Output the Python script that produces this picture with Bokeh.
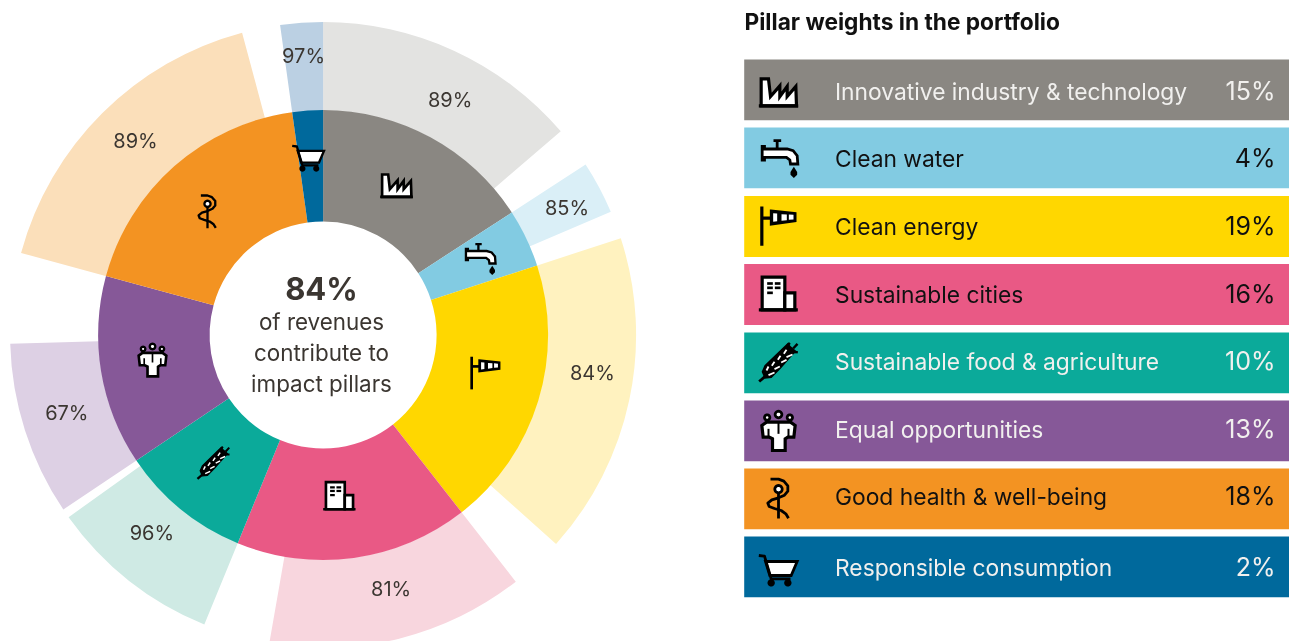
import math
from bokeh.plotting import figure
from bokeh.models import Range1d
from bokeh.core.properties import value
from bokeh.embed import file_html
from bokeh.resources import INLINE

# ---------- data ----------
pillars = ["Innovative industry & technology", "Clean water", "Clean energy", "Sustainable cities",
           "Sustainable food & agriculture", "Equal opportunities", "Good health & well-being",
           "Responsible consumption"]
weight_labels = ["15%", "4%", "19%", "16%", "10%", "13%", "18%", "2%"]
contribution_labels = ["89%", "85%", "84%", "81%", "96%", "67%", "89%", "97%"]
sector_span_deg = [57.0, 15.0, 70.0, 60.3, 33.8, 49.1, 66.9, 7.9]
covered_span_deg = [49.4, 9.8, 59.9, 47.9, 32.1, 32.3, 59.8, 7.9]
center_big = "84%"
center_lines = ["of revenues", "contribute to", "impact pillars"]
title_text = "Pillar weights in the portfolio"

# ---------- style ----------
colors = ["#8A8782", "#82CBE2", "#FFD700", "#E95985", "#0BAA9A", "#865898", "#F39322", "#00699C"]
light = ["#E3E3E1", "#DAEFF7", "#FFF2BF", "#F8D6DE", "#CFEAE4", "#DDD0E4", "#FBDFBA", "#BBD0E3"]
legend_text = ["#F1F0EE", "#111111", "#111111", "#111111", "#F1F0EE", "#F1F0EE", "#111111", "#F1F0EE"]
W, H = 1289, 641
CX, CY = 322.6, 334.5
R0, R1, R2 = 113.5, 225, 313
FONT = value("Inter")
TXT = "#3B3631"
row_tops = [59, 127, 195.6, 263.6, 332, 400, 468, 536]
ROW_H = 60.8
STROKE = 1.2
row_text_y = [90.5, 157.5, 225.5, 293.5, 360.5, 428.5, 495.5, 566.5]
row_icon_y = [91, 157.5, 225, 294, 362.5, 428.5, 495.5, 566.5]
# label placement (clockwise degrees from north, radius in px)
label_angle = [28.4, 62.5, 98, 165, 220.8, 253, 316, 356]
label_radius = [267, 275, 272, 263, 262, 268, 270, 280]
# icon position on the wheel
wheel_icon = [(396, 184.5), (479, 258), (485, 372), (339, 496), (213, 463), (152, 358), (207, 209), (308, 155)]
WHEEL_SCALE = 0.83


def Y(py):
    return H - py


p = figure(width=W, height=H, x_range=Range1d(0, W), y_range=Range1d(0, H),
           toolbar_location=None, output_backend="svg", x_axis_type=None, y_axis_type=None,
           min_border=0, outline_line_color=None, background_fill_color="white", border_fill_color="white")
p.grid.visible = False
p.styles = {"position": "fixed", "left": "0px", "top": "0px"}


def north(a):
    return math.radians(90 - a)


# ---------- wheel ----------
start = 0.0
for i, span in enumerate(sector_span_deg):
    p.annular_wedge(x=[CX], y=[Y(CY)], inner_radius=R1 - 0.5, outer_radius=R2,
                    start_angle=[north(start)], end_angle=[north(start + covered_span_deg[i])],
                    direction="clock", fill_color=light[i], line_color=None)
    start += span
start = 0.0
for i, span in enumerate(sector_span_deg):
    p.annular_wedge(x=[CX], y=[Y(CY)], inner_radius=R0, outer_radius=R1,
                    start_angle=[north(start)], end_angle=[north(start + span)],
                    direction="clock", fill_color=colors[i], line_color=None)
    start += span

for i, lab in enumerate(contribution_labels):
    a = math.radians(label_angle[i])
    p.text(x=[CX + label_radius[i] * math.sin(a)], y=[Y(CY - label_radius[i] * math.cos(a))], text=[lab],
           text_font=FONT, text_font_size="20px", text_color=TXT, text_align="center", text_baseline="middle")

p.text(x=[321], y=[Y(288)], text=[center_big], text_font=FONT, text_font_style="bold", text_font_size="31px",
       text_color=TXT, text_align="center", text_baseline="middle")
for k, line in enumerate(center_lines):
    p.text(x=[321], y=[Y(321 + 31 * k)], text=[line], text_font=FONT, text_font_size="22.4px",
           text_color=TXT, text_align="center", text_baseline="middle")

# ---------- legend ----------
p.text(x=[744], y=[Y(20.5)], text=[title_text], text_font=FONT, text_font_style="bold", text_font_size="22.7px",
       text_color="#111111", text_align="left", text_baseline="middle")
for i, name in enumerate(pillars):
    top = row_tops[i]
    p.quad(left=[743.7], right=[W], top=[Y(top)], bottom=[Y(top + ROW_H)], fill_color=colors[i], line_color=None)
    p.text(x=[834.5], y=[Y(row_text_y[i])], text=[name], text_font=FONT, text_font_size="22.8px",
           text_color=legend_text[i], text_align="left", text_baseline="middle")
    p.text(x=[1275], y=[Y(row_text_y[i] - 0.5)], text=[weight_labels[i]], text_font=FONT, text_font_size="25px",
           text_color=legend_text[i], text_align="right", text_baseline="middle")


# ---------- icons (drawn in a 3x pixel grid around the centre point) ----------
def circ(cx, cy, r, n=24):
    return [(cx + r * math.cos(2 * math.pi * t / n), cy + r * math.sin(2 * math.pi * t / n)) for t in range(n)]


BK, WT = "#000000", "#FFFFFF"
def factory():
    return (114, 273), [
        ("p", [(62, 316), (62, 235), (84, 235), (90, 288), (118, 256), (118, 288), (140, 258), (140, 288), (166, 258), (168, 316)], WT, BK, 8),
        ("l", [(55, 316), (173, 316)], BK, 8)]

def tap():
    return (114, 472), [
        ("l", [(110, 422), (110, 445)], BK, 7),
        ("l", [(99, 420), (122, 420)], BK, 7),
        ("p", [(65, 437), (72, 437), (72, 445), (140, 445), (158, 450), (170, 465), (172, 490), (150, 490), (148, 478), (138, 470), (72, 470), (72, 478), (65, 478)], WT, BK, 7),
        ("p", [(160, 498), (170, 514), (170, 522), (160, 532), (150, 522), (150, 514)], BK, None, 0)]

def flag():
    return (84, 75), [
        ("l", [(34, 18), (34, 136)], BK, 8),
        ("l", [(34, 53), (62, 53)], BK, 8),
        ("p", [(61, 30), (135, 38), (135, 62), (61, 72)], BK, BK, 5),
        ("p", [(68, 38), (80, 39), (80, 62), (68, 64)], WT, None, 0),
        ("p", [(93, 41), (109, 42), (109, 59), (93, 61)], WT, None, 0),
        ("p", [(115, 42), (129, 43), (129, 57), (115, 58)], WT, None, 0)]

def building():
    return (114, 102), [
        ("p", [(65, 50), (133, 50), (133, 148), (65, 148)], WT, BK, 8),
        ("p", [(133, 97), (163, 97), (163, 148), (133, 148)], WT, BK, 8),
        ("l", [(55, 148), (172, 148)], BK, 8),
        ("p", [(80, 65), (97, 65), (97, 73), (80, 73)], BK, None, 0),
        ("p", [(103, 65), (120, 65), (120, 73), (103, 73)], BK, None, 0),
        ("p", [(80, 78), (97, 78), (97, 86), (80, 86)], BK, None, 0),
        ("p", [(103, 78), (120, 78), (120, 86), (103, 86)], BK, None, 0),
        ("p", [(80, 93), (97, 93), (97, 101), (80, 101)], BK, None, 0)]

def wheat():
    prims = [
        ("l", [(56, 363), (85, 338)], BK, 7),
        ("p", [(66, 334), (74, 316), (142, 250), (150, 260), (164, 272), (118, 324), (92, 350), (74, 352)], BK, BK, 4),
        ("l", [(140, 256), (148, 247)], BK, 6),
        ("l", [(158, 264), (171, 250)], BK, 6),
        ("l", [(158, 275), (172, 275)], BK, 6)]
    for a, b in [((78, 330), (84, 318)), ((94, 316), (102, 304)), ((112, 298), (120, 286)), ((130, 280), (138, 268)),
                 ((84, 344), (102, 336)), ((102, 326), (118, 318)), ((122, 306), (138, 298)), ((138, 290), (156, 282))]:
        prims.append(("l", [a, b], WT, 4.5))
    return (114, 307.5), prims

def people():
    return (84, 70.5), [
        ("p", circ(50, 36, 8), WT, BK, 7),
        ("p", circ(84, 27, 10), WT, BK, 7),
        ("p", circ(118, 36, 8), WT, BK, 7),
        ("p", [(34, 60), (48, 50), (120, 50), (134, 60), (130, 95), (112, 95), (104, 100), (104, 135), (66, 135), (66, 100), (56, 95), (38, 95)], WT, BK, 8),
        ("l", [(84, 52), (84, 85)], BK, 5),
        ("l", [(54, 70), (54, 95)], BK, 5),
        ("l", [(114, 70), (114, 95)], BK, 5)]

def snake():
    return (84, 70.5), [
        ("l", [(84, 50), (84, 138)], BK, 7),
        ("l", [(60, 20), (84, 20), (100, 26), (112, 40), (112, 56), (102, 68), (84, 76), (64, 82), (52, 92), (56, 102), (72, 108), (92, 114), (106, 124), (114, 137)], BK, 7),
        ("p", circ(84, 50, 11), WT, BK, 7)]

def cart():
    return (114, 919.5), [
        ("p", [(75, 903), (170, 903), (152, 945), (88, 945)], WT, BK, 7),
        ("l", [(55, 885), (72, 887), (92, 955), (150, 955)], BK, 7),
        ("p", circ(92, 967, 11), BK, None, 0),
        ("p", circ(142, 967, 11), BK, None, 0)]

icons = [factory, tap, flag, building, wheat, people, snake, cart]


def draw_icon(fn, ox, oy, s):
    (cx, cy), prims = fn()
    k = s / 3.0
    for prim in prims:
        xs = [ox + (q[0] - cx) * k for q in prim[1]]
        ys = [Y(oy + (q[1] - cy) * k) for q in prim[1]]
        if prim[0] == "p":
            p.patch(xs, ys, fill_color=prim[2], line_color=prim[3], line_width=prim[4] * k * STROKE if prim[3] else 0,
                    line_join="miter")
        else:
            p.line(xs, ys, line_color=prim[2], line_width=prim[3] * k * STROKE, line_cap="butt", line_join="round")


for i, fn in enumerate(icons):
    draw_icon(fn, 778, row_icon_y[i], 1.0)
    draw_icon(fn, wheel_icon[i][0], wheel_icon[i][1], WHEEL_SCALE)

open("out.html", "w").write(file_html(p, INLINE))
